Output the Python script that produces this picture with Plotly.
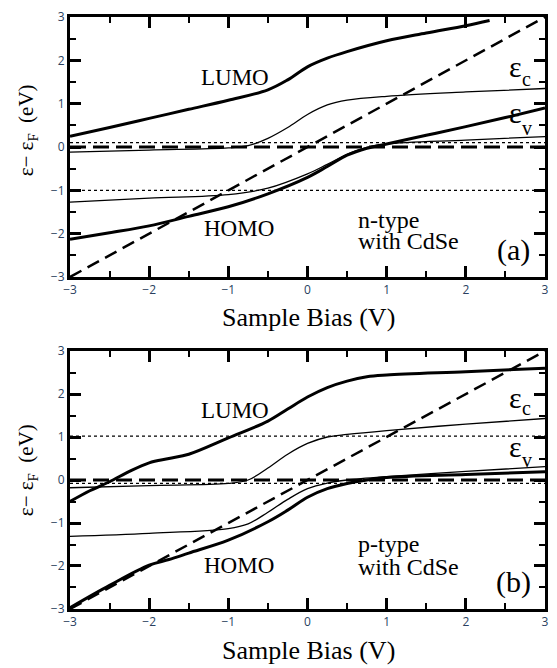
import plotly.graph_objects as go

# ---------- data: panel (a) n-type ----------
bias_diag = [-3, 3]
fermi_a = [0, 0]
dot_a_hi = [0.1, 0.1]
dot_a_lo = [-1.0, -1.0]

lumo_a_x = [-3, -2.5, -2, -1.5, -1, -0.5, -0.25, 0, 0.25, 0.5, 1, 1.5, 2, 2.3]
lumo_a_y = [0.25, 0.45, 0.66, 0.87, 1.08, 1.32, 1.55, 1.85, 2.05, 2.2, 2.45, 2.63, 2.8, 2.92]

ec_a_x = [-3, -2, -1, -0.75, -0.5, -0.25, 0, 0.25, 0.5, 1, 2, 3]
ec_a_y = [-0.12, -0.07, -0.02, 0.03, 0.2, 0.45, 0.75, 0.97, 1.08, 1.17, 1.27, 1.35]

ev_a_x = [-3, -2, -1, -0.5, 0, 0.25, 0.5, 0.75, 1, 2, 3]
ev_a_y = [-1.27, -1.18, -1.1, -0.95, -0.62, -0.4, -0.17, -0.01, 0.07, 0.16, 0.24]

homo_a_x = [-3, -2.5, -2, -1.5, -1, -0.5, 0, 0.25, 0.5, 0.75, 1, 1.5, 2, 2.5, 3]
homo_a_y = [-2.13, -1.98, -1.82, -1.6, -1.38, -1.08, -0.7, -0.45, -0.19, -0.03, 0.07, 0.27, 0.47, 0.68, 0.9]

# ---------- data: panel (b) p-type ----------
fermi_b = [0, 0]
dot_b_hi = [1.02, 1.02]
dot_b_lo = [-0.08, -0.08]

lumo_b_x = [-3, -2.75, -2.5, -2.25, -2, -1.75, -1.5, -1, -0.5, -0.25, 0, 0.25, 0.5, 0.75, 1, 2, 3]
lumo_b_y = [-0.5, -0.25, -0.04, 0.2, 0.4, 0.5, 0.6, 0.98, 1.37, 1.65, 1.93, 2.15, 2.3, 2.4, 2.44, 2.52, 2.6]

ec_b_x = [-3, -2, -1, -0.75, -0.5, -0.25, 0, 0.25, 0.5, 1, 2, 3]
ec_b_y = [-0.18, -0.13, -0.08, 0.0, 0.28, 0.6, 0.85, 1.0, 1.06, 1.15, 1.3, 1.43]

ev_b_x = [-3, -2, -1, -0.75, -0.5, -0.25, 0, 0.25, 0.5, 1, 2, 3]
ev_b_y = [-1.31, -1.24, -1.13, -1.02, -0.75, -0.45, -0.2, -0.07, 0.0, 0.08, 0.2, 0.31]

homo_b_x = [-3, -2.5, -2, -1.75, -1.5, -1, -0.5, -0.25, 0, 0.25, 0.5, 0.75, 1, 2, 3]
homo_b_y = [-2.97, -2.45, -1.98, -1.85, -1.7, -1.4, -0.97, -0.7, -0.4, -0.2, -0.08, 0.0, 0.06, 0.13, 0.19]

FONT = "Liberation Serif"

fig = go.Figure()

def add_panel(xa, ya, lumo, ec, ev, homo, fermi, dhi, dlo):
    kw = dict(xaxis=xa, yaxis=ya, mode="lines", showlegend=False, hoverinfo="skip")
    fig.add_trace(go.Scatter(x=bias_diag, y=dhi, line=dict(color="black", width=1.3, dash="dot"), **kw))
    fig.add_trace(go.Scatter(x=bias_diag, y=dlo, line=dict(color="black", width=1.3, dash="dot"), **kw))
    fig.add_trace(go.Scatter(x=bias_diag, y=fermi, line=dict(color="black", width=3, dash="16px,7px"), **kw))
    fig.add_trace(go.Scatter(x=bias_diag, y=bias_diag, line=dict(color="black", width=2.5, dash="13px,7px"), **kw))
    fig.add_trace(go.Scatter(x=ec[0], y=ec[1], line=dict(color="black", width=1.3, shape="spline"), **kw))
    fig.add_trace(go.Scatter(x=ev[0], y=ev[1], line=dict(color="black", width=1.3, shape="spline"), **kw))
    fig.add_trace(go.Scatter(x=lumo[0], y=lumo[1], line=dict(color="black", width=3, shape="spline"), **kw))
    fig.add_trace(go.Scatter(x=homo[0], y=homo[1], line=dict(color="black", width=3, shape="spline"), **kw))

add_panel("x", "y", (lumo_a_x, lumo_a_y), (ec_a_x, ec_a_y), (ev_a_x, ev_a_y), (homo_a_x, homo_a_y), fermi_a, dot_a_hi, dot_a_lo)
add_panel("x2", "y2", (lumo_b_x, lumo_b_y), (ec_b_x, ec_b_y), (ev_b_x, ev_b_y), (homo_b_x, homo_b_y), fermi_b, dot_b_hi, dot_b_lo)

def axis_common():
    return dict(range=[-3, 3], dtick=1,
                ticks="inside", ticklen=11, tickwidth=3, tickcolor="black",
                showline=True, linewidth=3, linecolor="black", mirror="allticks",
                minor=dict(dtick=0.5, ticks="inside", ticklen=6, tickwidth=2, tickcolor="black"))

fig.update_layout(
    width=557, height=668,
    margin=dict(l=70, r=8, t=17, b=59),
    plot_bgcolor="white",
    xaxis=dict(domain=[0, 1], anchor="y", **axis_common()),
    yaxis=dict(domain=[0.5608, 1.0], anchor="x", **axis_common()),
    xaxis2=dict(domain=[0, 1], anchor="y2", **axis_common()),
    yaxis2=dict(domain=[0.0, 0.4358], anchor="x2", **axis_common()),
)

def ann(text, x, y, xr, yr, size, xanchor="center", angle=0):
    fig.add_annotation(text=text, x=x, y=y, xref=xr, yref=yr, showarrow=False,
                       xanchor=xanchor, yanchor="middle", textangle=angle,
                       font=dict(family=FONT, size=size, color="black"))

panels = [
    # xr, yr, lumo_y, homo_y, eps_c_y, c_y, eps_v_y, v_y, type_y, with_y, tag, tag_y, type_text
    ("x", "y", 1.6, -1.87, 1.85, 1.57, 0.80, 0.44, -1.69, -2.17, "(a)", -2.37, "n-type"),
    ("x2", "y2", 1.62, -2.0, 1.93, 1.67, 0.77, 0.46, -1.49, -2.02, "(b)", -2.37, "p-type"),
]
for xr, yr, ly, hy, ecy, cy, evy, vy, ty, wy, tag, tagy, typ in panels:
    ann("LUMO", -0.91, ly, xr, yr, 23)
    ann("HOMO", -0.86, hy, xr, yr, 23)
    ann("ε", 2.52, ecy, xr, yr, 30, xanchor="left")
    ann("c", 2.68, cy, xr, yr, 20, xanchor="left")
    ann("ε", 2.52, evy, xr, yr, 30, xanchor="left")
    ann("v", 2.69, vy, xr, yr, 20, xanchor="left")
    ann(typ, 0.61, ty, xr, yr, 24, xanchor="left")
    ann("with CdSe", 0.61, wy, xr, yr, 24, xanchor="left")
    ann(tag, 2.6, tagy, xr, yr, 30)

for yc in [0.809, 0.235]:
    ann("ε− ε<sub>F</sub>  (eV)", -0.09, yc, "paper", "paper", 21, angle=-90)
for yc in [0.4916, -0.0693]:
    ann("Sample Bias (V)", 0.503, yc, "paper", "paper", 26)

fig.write_html("out.html", config={"displayModeBar": False},
               post_script="document.body.style.margin='0px';")
